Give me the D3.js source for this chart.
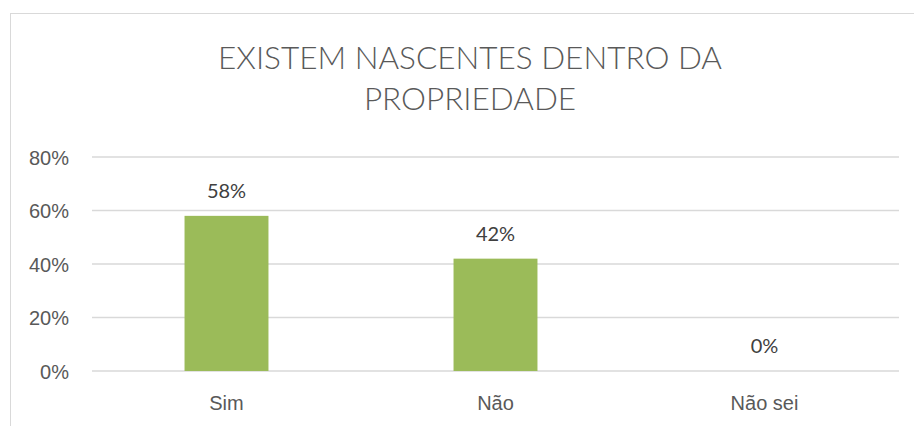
<!DOCTYPE html>
<html>
<head>
<meta charset="utf-8">
<script src="https://cdn.jsdelivr.net/npm/d3@7"></script>
<style>
  body { margin: 0; background: #fff; }
  svg { display: block; font-family: Lato, "Open Sans", sans-serif; }
  .grid line { stroke: #d9d9d9; stroke-width: 1.3; }
  .axis text { fill: #595959; font-size: 20px; }
  .label { fill: #404040; font-size: 20px; }
  .title { fill: #595959; font-size: 31.5px; font-weight: 300; }
</style>
</head>
<body>
<svg width="914" height="426"></svg>
<script>
var categories = ["Sim", "Não", "Não sei"];
var values = [0.58, 0.42, 0];
var yTicks = [0, 0.2, 0.4, 0.6, 0.8];
var titleLines = ["EXISTEM NASCENTES DENTRO DA", "PROPRIEDADE"];

var svg = d3.select("svg"),
    margin = {top: 157, right: 15, bottom: 55, left: 92},
    width = +svg.attr("width") - margin.left - margin.right,
    height = +svg.attr("height") - margin.top - margin.bottom;

// chart frame
svg.append("rect")
    .attr("x", 10.5).attr("y", 13.5)
    .attr("width", 920).attr("height", 430)
    .attr("fill", "none")
    .attr("stroke", "#d9d9d9");

svg.selectAll(".title").data(titleLines)
  .enter().append("text")
    .attr("class", "title")
    .attr("x", 470)
    .attr("y", function(d, i) { return 69 + i * 41; })
    .attr("text-anchor", "middle")
    .text(function(d) { return d; });

var x = d3.scaleBand().domain(categories).range([0, width])
    .paddingInner(0.688).paddingOuter(0.344);
var y = d3.scaleLinear().domain([0, 0.8]).range([height, 0]);

var g = svg.append("g")
    .attr("transform", "translate(" + margin.left + "," + margin.top + ")");

g.append("g").attr("class", "grid")
  .selectAll("line").data(yTicks)
  .enter().append("line")
    .attr("x1", 0).attr("x2", width)
    .attr("y1", function(d) { return y(d); })
    .attr("y2", function(d) { return y(d); });

var yAxis = d3.axisLeft(y).tickValues(yTicks).tickFormat(d3.format(".0%"))
    .tickSize(0).tickPadding(23);
g.append("g").attr("class", "axis axis--y").call(yAxis)
    .call(function(s) { s.select(".domain").remove(); })
    .selectAll("text").attr("dy", "0.36em");

var xAxis = d3.axisBottom(x).tickSize(0).tickPadding(25);
g.append("g").attr("class", "axis axis--x")
    .attr("transform", "translate(0," + height + ")")
    .call(xAxis)
    .call(function(s) { s.select(".domain").remove(); });

var data = categories.map(function(c, i) { return {cat: c, value: values[i]}; });

g.selectAll(".bar").data(data)
  .enter().append("rect")
    .attr("class", "bar")
    .attr("fill", "#9bbb59")
    .attr("x", function(d) { return x(d.cat); })
    .attr("width", x.bandwidth())
    .attr("y", function(d) { return y(d.value); })
    .attr("height", function(d) { return height - y(d.value); });

g.selectAll(".label").data(data)
  .enter().append("text")
    .attr("class", "label")
    .attr("text-anchor", "middle")
    .attr("x", function(d) { return x(d.cat) + x.bandwidth() / 2; })
    .attr("y", function(d) { return y(d.value) - 18; })
    .text(function(d) { return (d.value * 100).toFixed(0) + "%"; });
</script>
</body>
</html>
